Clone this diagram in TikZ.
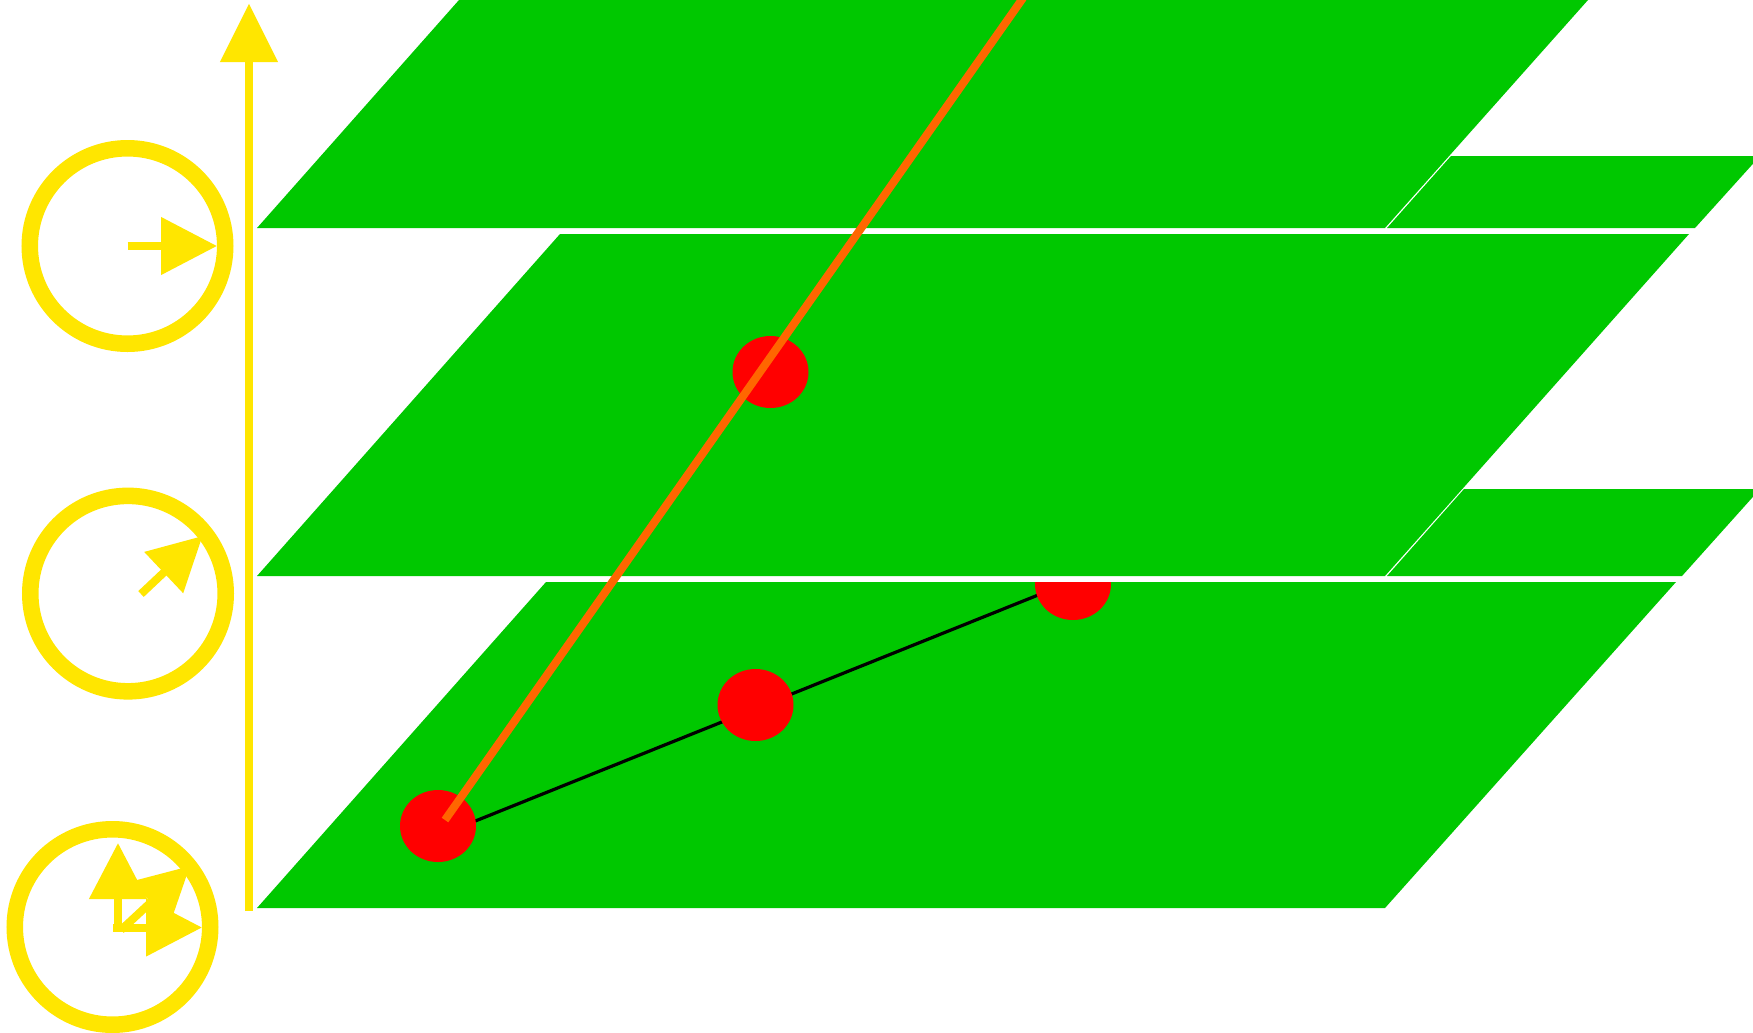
\documentclass[tikz,border=0pt]{standalone}
\usetikzlibrary{shapes.geometric,arrows.meta}
\definecolor{planegreen}{RGB}{0,200,0}
\definecolor{axisyellow}{RGB}{255,230,0}
\definecolor{rayorange}{RGB}{255,102,0}
\tikzset{
  plane/.style={fill=planegreen,draw=none},
  ring/.style={circle,draw=axisyellow,line width=12.4pt,minimum size=146.6pt,inner sep=0pt},
  dot/.style={ellipse,fill=red,minimum width=57pt,minimum height=54pt,inner sep=0pt,draw=none},
  axisvec/.style={draw=axisyellow,line width=6pt,-{Triangle[length=44pt,width=42pt,fill=axisyellow]}},
  vec/.style={draw=axisyellow,line width=6pt,-{Triangle[length=42pt,width=42pt,fill=axisyellow]}},
  vecshort/.style={draw=axisyellow,line width=6pt,-{Triangle[length=40pt,width=41pt,fill=axisyellow]}},
  ray/.style={draw=rayorange,line width=6pt},
  link/.style={draw=black,line width=2.4pt}
}
\begin{document}
\begin{tikzpicture}[x=0.75pt,y=-0.75pt]
\useasboundingbox (0,0) rectangle (1753,1032);
\clip (0,0) rectangle (1753,1032);
\fill[white] (0,0) rectangle (1753,1032);
% planes
\fill[plane] (257,228) -- (459,0) -- (1588,0) -- (1385,228) -- cycle;
\fill[plane] (1387,228) -- (1451,156) -- (1760,156) -- (1695,228) -- cycle;
\fill[plane] (257,576) -- (560,234) -- (1689,234) -- (1385,576) -- cycle;
\fill[plane] (1387,576) -- (1464,489) -- (1760,489) -- (1682,576) -- cycle;
\fill[plane] (257,908) -- (546,582) -- (1676,582) -- (1385,908) -- cycle;
% dots and link on the bottom plane
\coordinate (linkA) at (438,836);
\coordinate (linkB) at (1073,581);
\begin{scope}
\clip (0,582) rectangle (1753,1032);
\draw[link] (linkA) -- (linkB);
\node[dot] (dotA) at (438,826) {};
\node[dot] (dotB) at (755.5,705) {};
\node[dot] (dotC) at (1073,584) {};
\end{scope}
\node[dot] (dotD) at (770.5,372) {};
% ray
\coordinate (rayA) at (445,820);
\coordinate (rayB) at (1023,-2);
\draw[ray] (rayA) -- (rayB);
% axis
\coordinate (axisA) at (249,911);
\coordinate (axisB) at (249,3.5);
\draw[axisvec] (axisA) -- (axisB);
% top ring
\node[ring] (ringT) at (127.5,246) {};
\coordinate (tA) at (127.5,246);
\coordinate (tB) at (217,246);
\draw[vec] (tA) -- (tB);
% middle ring
\node[ring] (ringM) at (128,593.6) {};
\coordinate (mA) at (141,594);
\coordinate (mB) at (202.5,536);
\draw[vecshort] (mA) -- (mB);
% bottom ring
\node[ring] (ringB) at (112.5,927) {};
\coordinate (bO) at (118,932);
\coordinate (bU) at (118,843);
\draw[vec] (bO) -- (bU);
\coordinate (bR0) at (113,927.5);
\coordinate (bR) at (202,927.5);
\draw[vec] (bR0) -- (bR);
\coordinate (bD0) at (121,930);
\coordinate (bD) at (190,866);
\draw[vecshort] (bD0) -- (bD);
\end{tikzpicture}
\end{document}
